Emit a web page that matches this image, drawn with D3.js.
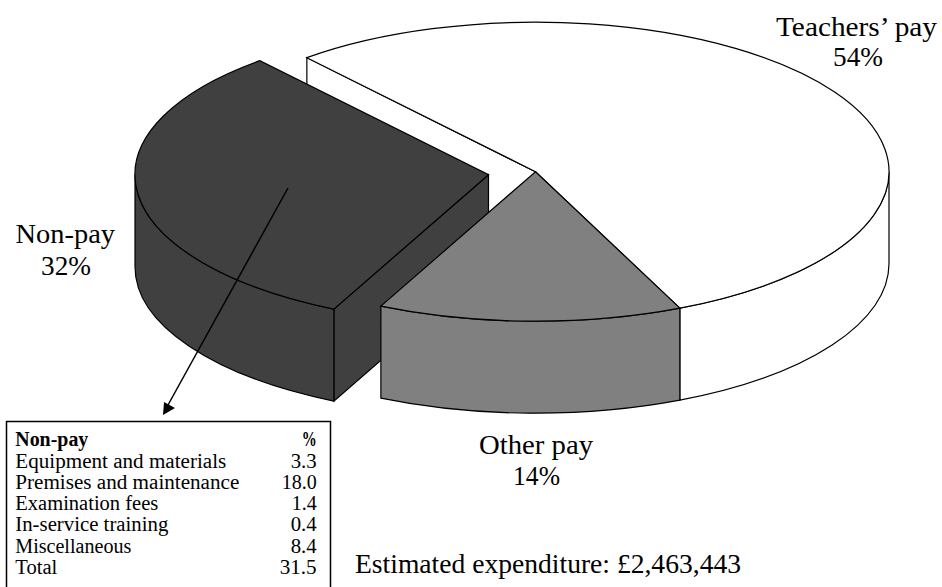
<!DOCTYPE html>
<html><head><meta charset="utf-8">
<script src="https://cdn.jsdelivr.net/npm/d3@7"></script>
<style>html,body{margin:0;padding:0;background:#fff}svg{display:block}
text{font-family:"Liberation Serif",serif;fill:#000}</style></head>
<body><svg id="c" width="942" height="587"></svg>
<script>
const sliceNames = ["Teachers' pay","Other pay","Non-pay"];
const sliceValues = [54.5,13.9,31.6];
const sliceFills = ["#ffffff","#808080","#404040"];
const sliceLabels = ["Teachers\u2019 pay","Other pay","Non-pay"];
const sliceShown = ["54%","14%","32%"];
const tableItems = ["Equipment and materials","Premises and maintenance","Examination fees","In-service training","Miscellaneous","Total"];
const tableValues = ["3.3","18.0","1.4","0.4","8.4","31.5"];

const cx=535.5, cy=171.7, rx=353.5, ry=149.5, depth=92;
const svg=d3.select("#c");
const toRad=d=>d*Math.PI/180;
const pie=d3.pie().sort(null).startAngle(toRad(-40.3)).endAngle(toRad(319.7));
const arcs=pie(sliceValues);
const px=d3.scaleLinear().domain([-1,1]).range([-rx,rx]);
const py=d3.scaleLinear().domain([-1,1]).range([-ry,ry]);
const P=(t,ox,oy,dz=0)=>[cx+ox+px(Math.sin(t)),cy+oy+py(-Math.cos(t))+dz];
const offsets=[[0,0],[0,0],[-47,3]];
const st=(sel,fill)=>sel.attr("fill",fill).attr("stroke","#000").attr("stroke-width",1.2).attr("stroke-linejoin","miter");

function topPath(a,o){const s=P(a.startAngle,...o),e=P(a.endAngle,...o);
 const large=a.endAngle-a.startAngle>Math.PI?1:0;
 return `M${cx+o[0]},${cy+o[1]}L${s}A${rx},${ry} 0 ${large} 1 ${e}Z`;}
function wallPath(a,o){const lo=Math.max(a.startAngle,Math.PI/2),hi=Math.min(a.endAngle,3*Math.PI/2);
 if(hi<=lo)return null;
 const s=P(lo,...o),e=P(hi,...o),e2=P(hi,...o,depth),s2=P(lo,...o,depth);
 return `M${s}A${rx},${ry} 0 0 1 ${e}L${e2}A${rx},${ry} 0 0 0 ${s2}Z`;}
function cutPath(t,o){const a=P(t,...o),b=P(t,...o,depth),c=[cx+o[0],cy+o[1]+depth],d=[cx+o[0],cy+o[1]];
 return `M${a}L${b}L${c}L${d}Z`;}

// white slice
st(svg.append("path").attr("d",cutPath(arcs[0].startAngle,offsets[0])),sliceFills[0]);
st(svg.append("path").attr("d",wallPath(arcs[0],offsets[0])),sliceFills[0]);
st(svg.append("path").attr("d",topPath(arcs[0],offsets[0])),sliceFills[0]);
// dark slice
st(svg.append("path").attr("d",cutPath(arcs[2].startAngle,offsets[2])),sliceFills[2]);
st(svg.append("path").attr("d",wallPath(arcs[2],offsets[2])),sliceFills[2]);
st(svg.append("path").attr("d",topPath(arcs[2],offsets[2])),sliceFills[2]);
// grey slice
st(svg.append("path").attr("d",wallPath(arcs[1],offsets[1])),sliceFills[1]);
st(svg.append("path").attr("d",topPath(arcs[1],offsets[1])),sliceFills[1]);

// arrow
svg.append("line").attr("x1",288).attr("y1",188).attr("x2",168).attr("y2",405).attr("stroke","#000").attr("stroke-width",1.5);
svg.append("path").attr("d","M163,415L164,402L175,408Z").attr("fill","#000");

// text helper: fits a string to the width measured in the reference
function put(str,x,y,size,anchor,w,bold){
 svg.append("text").attr("x",x).attr("y",y).attr("font-size",size)
  .attr("font-weight",bold?"bold":null).attr("text-anchor",anchor)
  .attr("textLength",w).attr("lengthAdjust","spacingAndGlyphs").text(str);
}
const labelLayout=[[0,856.5,36,161,858,66,50],[1,536,454,114,536.5,485,47],[2,65.3,243,99.5,66,275,50]];
labelLayout.forEach(([i,x1,y1,w1,x2,y2,w2])=>{
 put(sliceLabels[i],x1,y1,27,"middle",w1);
 put(sliceShown[i],x2,y2,27,"middle",w2);
});
put("Estimated expenditure: £2,463,443",355,573,27,"start",386);

// table
svg.append("path").attr("d","M6.5,588V421.5H330.5V588").attr("fill","#fff").attr("stroke","#000").attr("stroke-width",1.5);
put(sliceNames[2],15.3,446,20.5,"start",73,true);
put("%",316.7,446,20.5,"end",15,true);
const rowY=[467.7,488.5,510,531,552.5,574];
const rowW=[211,224,143,153,116,42];
const valW=[26,35,25,26,26,37];
tableItems.forEach((t,i)=>{
 put(t,15.3,rowY[i],20.5,"start",rowW[i]);
 put(tableValues[i],316.7,rowY[i],20.5,"end",valW[i]);
});
</script></body></html>
